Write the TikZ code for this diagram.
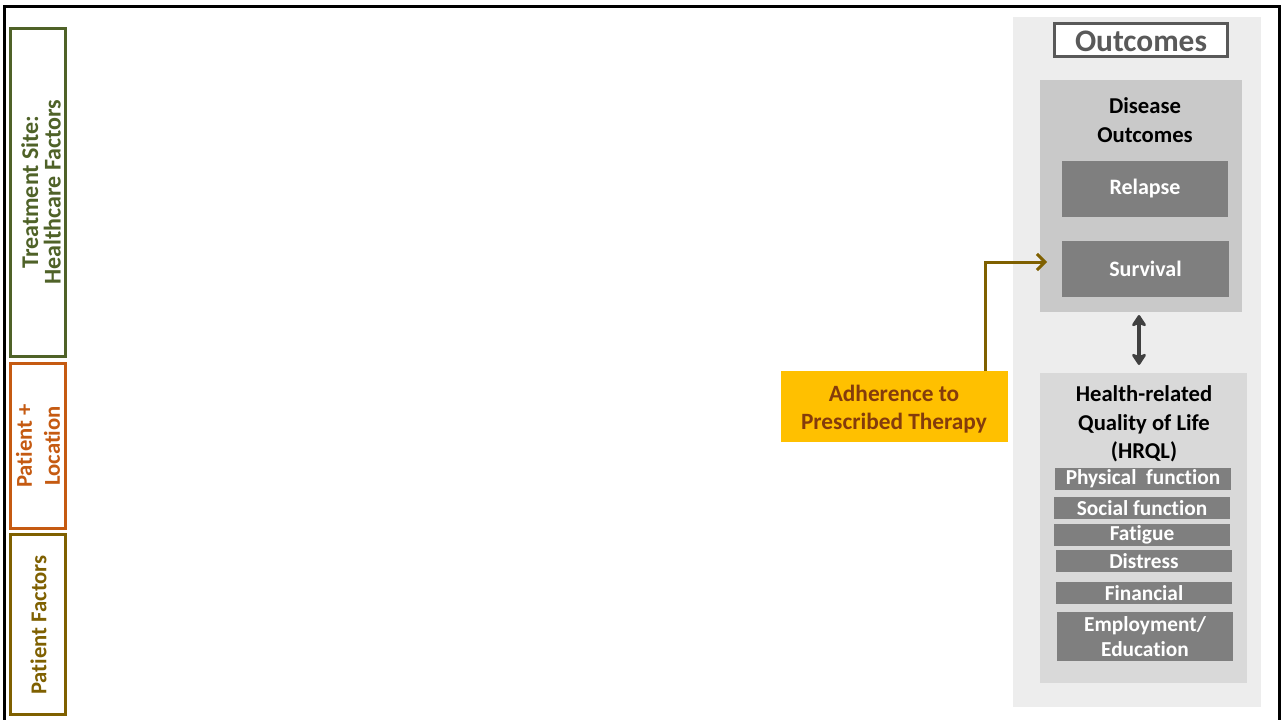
\documentclass[tikz,border=0pt]{standalone}
\usepackage{fontspec}
\setmainfont{Carlito}[Ligatures=NoCommon]
\usetikzlibrary{arrows.meta,fit}

\definecolor{siteGreen}{HTML}{4F6228}
\definecolor{locOrange}{HTML}{C55A11}
\definecolor{patGold}{HTML}{7F6000}
\definecolor{panelGray}{HTML}{EDEDED}
\definecolor{diseaseGray}{HTML}{C9C9C9}
\definecolor{hrqlGray}{HTML}{D9D9D9}
\definecolor{itemGray}{HTML}{7F7F7F}
\definecolor{titleGray}{HTML}{595959}
\definecolor{arrowGray}{HTML}{404040}
\definecolor{adhGold}{HTML}{FFC000}
\definecolor{adhBrown}{HTML}{843C0C}

\begin{document}
\begin{tikzpicture}[x=0.75pt,y=-0.75pt,
  every node/.style={inner sep=0pt, outer sep=0pt, align=center},
  sidebox/.style={draw, line width=2.25pt, fill=white},
  sidetext/.style={rotate=90, font=\bfseries\fontsize{#1}{#1}\selectfont},
  itembox/.style={fill=itemGray, text=white, font=\bfseries\fontsize{16}{18.75}\selectfont},
  headtext/.style={font=\bfseries\fontsize{17}{21.5}\selectfont, text=black},
  linkarrow/.style={draw=patGold, line width=2.25pt, -{Straight Barb[length=6pt,width=12pt]}},
  bothways/.style={draw=arrowGray, line width=2.4pt,
    {Stealth[length=10pt,width=13pt,inset=2.5pt,round]}-{Stealth[length=10pt,width=13pt,inset=2.5pt,round]}}]

\useasboundingbox (0,0) rectangle (1285,719);
\fill[white] (0,0) rectangle (1285,719);

% outer frame, open at the bottom edge
\draw[line width=2.25pt] (4.5,740) -- (4.5,6.5) -- (1279.5,6.5) -- (1279.5,740);

% factor bars on the left
\node[sidebox, draw=siteGreen, fit={(10,28.5)(65,356.5)}] (site) {};
\node[sidetext=18, text=siteGreen] at (41,192) (sitetext) {Treatment Site:\\[-1pt]Healthcare Factors};
\node[sidebox, draw=locOrange, fit={(10,363.5)(65,528.5)}] (loc) {};
\node[sidetext=17, text=locOrange] at (38,446) (loctext) {Patient +\\[4pt]Location};
\node[sidebox, draw=patGold, fit={(10,534.5)(65,714.5)}] (pat) {};
\node[sidetext=17, text=patGold] at (38.5,625) (pattext) {Patient Factors};

% outcomes panel
\node[fill=panelGray, fit={(1013,17)(1261,707)}] (panel) {};
\node[draw=titleGray, line width=2.25pt, fill=white, fit={(1054.5,23.5)(1227.5,56.5)}] (title) {};
\node[text=titleGray, font=\bfseries\fontsize{23.5}{28}\selectfont] at (1141,41) (titletext) {Outcomes};

% disease outcomes
\node[fill=diseaseGray, fit={(1040,80)(1242,312)}] (disease) {};
\node[headtext] at (1145,120) (diseasetext) {Disease\\Outcomes};
\node[itembox, fit={(1062,161)(1228,217)}] (relapse) {};
\node[itembox, font=\bfseries\fontsize{16.5}{20}\selectfont] at (relapse.center) (relapsetext) {Relapse};
\node[itembox, fit={(1062,241)(1229,297)}] (survival) {};
\node[itembox, font=\bfseries\fontsize{16.5}{20}\selectfont] at (survival.center) (survivaltext) {Survival};

% health-related quality of life
\node[fill=hrqlGray, fit={(1040,373)(1247,683)}] (hrql) {};
\node[headtext] at (1144,424) (hrqltext) {Health-related\\Quality of Life\\(HRQL)};
\node[itembox, fit={(1055,468)(1231,490)}] (phys) {};
\node[itembox] at (phys.center) (physt) {Physical~ function};
\node[itembox, fit={(1054,497)(1230,519)}] (social) {};
\node[itembox] at (social.center) (socialt) {Social function};
\node[itembox, fit={(1054,524)(1230,546)}] (fatigue) {};
\node[itembox] at (fatigue.center) (fatiguet) {Fatigue};
\node[itembox, fit={(1056,550)(1232,572)}] (distress) {};
\node[itembox] at (distress.center) (distresst) {Distress};
\node[itembox, fit={(1056,582)(1232,604)}] (financial) {};
\node[itembox] at (financial.center) (financialt) {Financial};
\node[itembox, fit={(1057,612)(1233,661)}] (employ) {};
\node[itembox] at (employ.center) (employt) {Employment/\\Education};

% adherence box and its link
\node[fill=adhGold, fit={(781,371)(1008,442)}] (adh) {};
\node[text=adhBrown, font=\bfseries\fontsize{17.5}{21}\selectfont] at (894,409) (adhtext) {Adherence to\\Prescribed Therapy};

\coordinate (bend) at (985,262);
\draw[linkarrow] (adh.north -| bend) -- (bend) -- ([xshift=-11.25pt]bend -| survival.west);

% link between the two outcome groups
\draw[bothways, shorten <=2.25pt, shorten >=6pt] (disease.south -| 1139,0) -- (hrql.north -| 1139,0);

\end{tikzpicture}
\end{document}
